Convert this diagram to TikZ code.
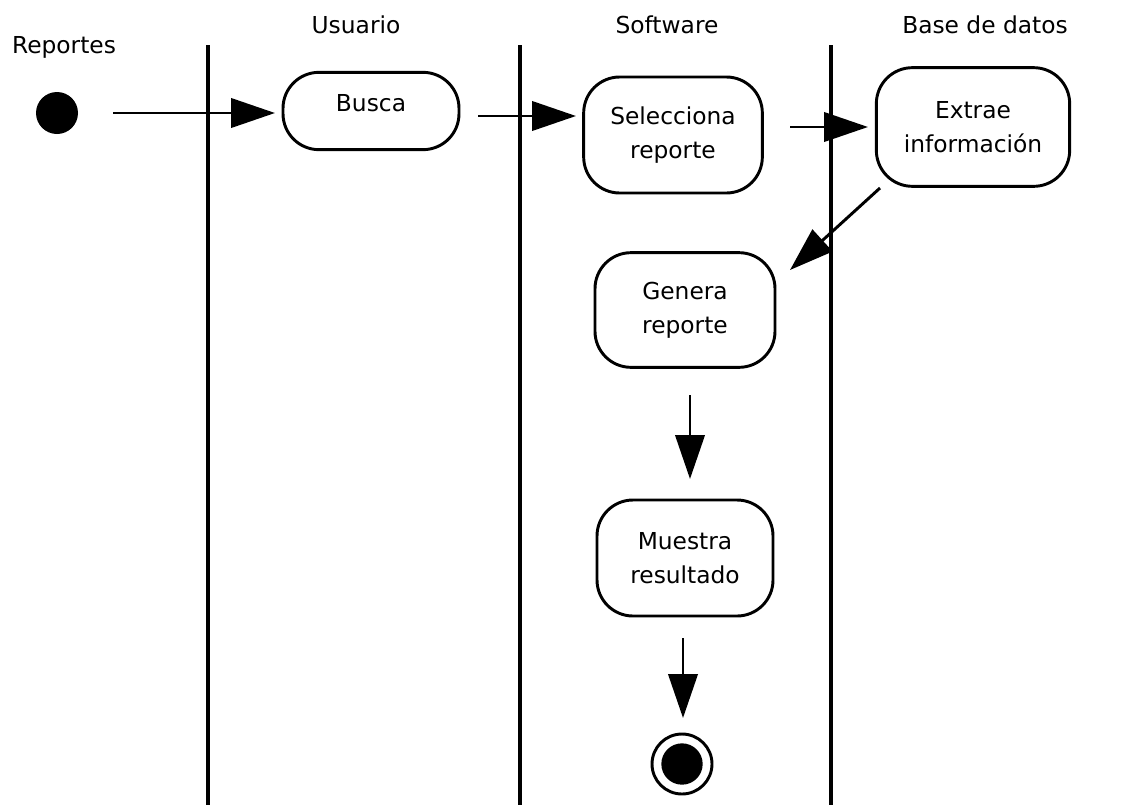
\documentclass[tikz,border=0pt]{standalone}
\usepackage{fontspec}
\setmainfont{DejaVu Sans}
\usetikzlibrary{arrows.meta}
\begin{document}
\begin{tikzpicture}[x=0.75pt,y=-0.75pt,
  every node/.style={font=\fontsize{17.5}{25.5}\selectfont},
  act/.style={draw,line width=2.2pt,rounded corners=27pt,align=center,inner sep=0pt},
  lane/.style={line width=2.4pt},
  flow/.style={line width=2.2pt,-{Triangle[length=33pt,width=22pt]}},
  lbl/.style={inner sep=0pt}]
\useasboundingbox (0,0) rectangle (1130,810);
% lanes
\coordinate (l1t) at (208,45); \coordinate (l1b) at (208,805);
\coordinate (l2t) at (520,45); \coordinate (l2b) at (520,805);
\coordinate (l3t) at (831,45); \coordinate (l3b) at (831,805);
\draw[lane] (l1t) -- (l1b);
\draw[lane] (l2t) -- (l2b);
\draw[lane] (l3t) -- (l3b);
% headers
\node[lbl] (hrep) at (64,47) {Reportes};
\node[lbl] (husr) at (356,25) {Usuario};
\node[lbl] (hsw) at (667,25) {Software};
\node[lbl] (hdb) at (985,25) {Base de datos};
% nodes
\node[circle,fill=black,minimum size=31.5pt,inner sep=0pt] (ini) at (57,113) {};
\node[act,minimum width=132pt,minimum height=58pt] (busca) at (371,111) {\raisebox{12pt}{Busca}};
\node[act,minimum width=134pt,minimum height=87pt] (sel) at (673,135) {Selecciona\\reporte};
\node[act,minimum width=145pt,minimum height=89pt] (ext) at (973,127) {Extrae\\información};
\node[act,minimum width=135pt,minimum height=86pt] (gen) at (685,310) {Genera\\reporte};
\node[act,minimum width=132pt,minimum height=87pt] (mue) at (685,558) {Muestra\\resultado};
\node[circle,draw,line width=2.2pt,minimum size=45pt,inner sep=0pt] (fin) at (682,764) {};
\node[circle,fill=black,minimum size=31pt,inner sep=0pt] at (fin) {};
% free ends
\coordinate (a1s) at (113,113); \coordinate (a1e) at (275,113);
\coordinate (a2s) at (478,116); \coordinate (a2e) at (576,116);
\coordinate (a3s) at (790,127); \coordinate (a3e) at (868,127);
\coordinate (a4s) at (880,188); \coordinate (a4e) at (790,270);
\coordinate (a5s) at (690,395); \coordinate (a5e) at (690,479);
\coordinate (a6s) at (683,638); \coordinate (a6e) at (683,718);
\draw[flow] (a1s) -- (a1e);
\draw[flow] (a2s) -- (a2e);
\draw[flow] (a3s) -- (a3e);
\draw[flow] (a4s) -- (a4e);
\draw[flow] (a5s) -- (a5e);
\draw[flow] (a6s) -- (a6e);
\end{tikzpicture}
\end{document}
